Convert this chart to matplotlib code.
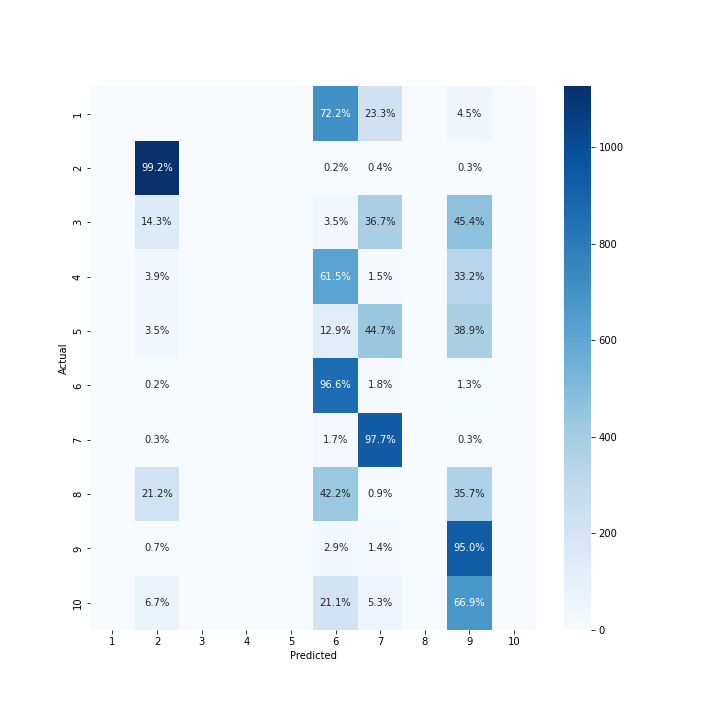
"""Confusion matrix heatmap (counts coloured, row percentages annotated)."""

import matplotlib

matplotlib.use("Agg")

import matplotlib.pyplot as plt
import numpy as np
import seaborn as sns


CLASS_LABELS = ["1", "2", "3", "4", "5", "6", "7", "8", "9", "10"]

# counts per actual class (rows) in predicted columns 2, 6, 7 and 9;
# every other predicted column is zero
PREDICTED_COLUMNS = [2, 6, 7, 9]
COUNTS_COL_2 = [0, 1126, 148, 39, 34, 2, 3, 218, 7, 68]
COUNTS_COL_6 = [708, 2, 36, 621, 127, 862, 16, 434, 28, 213]
COUNTS_COL_7 = [228, 4, 379, 15, 439, 16, 936, 9, 14, 53]
COUNTS_COL_9 = [44, 3, 469, 335, 382, 12, 3, 367, 925, 675]


def build_matrix() -> np.ndarray:
    matrix = np.zeros((len(CLASS_LABELS), len(CLASS_LABELS)), dtype=int)
    columns = [COUNTS_COL_2, COUNTS_COL_6, COUNTS_COL_7, COUNTS_COL_9]
    for label, values in zip(PREDICTED_COLUMNS, columns):
        matrix[:, label - 1] = values
    return matrix


def build_annotations(matrix: np.ndarray) -> np.ndarray:
    row_sums = matrix.sum(axis=1, keepdims=True)
    percent = matrix / row_sums * 100.0
    annot = np.empty(matrix.shape, dtype=object)
    for i in range(matrix.shape[0]):
        for j in range(matrix.shape[1]):
            annot[i, j] = f"{percent[i, j]:.1f}%" if matrix[i, j] > 0 else ""
    return annot


matrix = build_matrix()
annot = build_annotations(matrix)

fig, ax = plt.subplots(figsize=(10, 10), dpi=72)
fig.subplots_adjust(left=0.125, right=0.9, top=0.88, bottom=0.125)

sns.heatmap(
    matrix,
    annot=annot,
    fmt="",
    cmap="Blues",
    vmin=0,
    xticklabels=CLASS_LABELS,
    yticklabels=CLASS_LABELS,
    annot_kws={"fontsize": 10},
    ax=ax,
)

ax.set_xlabel("Predicted", fontsize=10)
ax.set_ylabel("Actual", fontsize=10)
ax.set_ylim(len(CLASS_LABELS), 0)
plt.setp(ax.get_yticklabels(), rotation=90, va="center")
plt.setp(ax.get_xticklabels(), rotation=0)

fig.savefig("out.png", dpi=72)
plt.close(fig)
